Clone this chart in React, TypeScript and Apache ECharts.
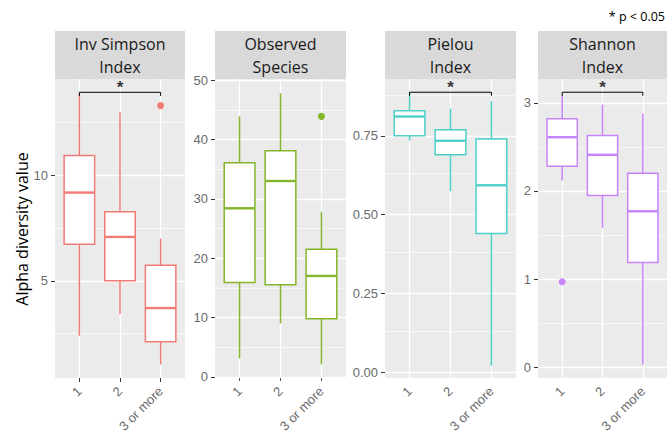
import React, { useEffect, useRef } from "react";
import * as echarts from "echarts";

// ---------- data ----------
const groups = ["1", "2", "3 or more"];
const groupPos = [1, 2, 3];

const panelTitles = ["Inv Simpson\nIndex", "Observed\nSpecies", "Pielou\nIndex", "Shannon\nIndex"];

// each box: [lower whisker, Q1, median, Q3, upper whisker]
const invSimpsonBoxes = [
  [2.4, 6.73, 9.18, 10.94, 13.85],
  [3.43, 5.0, 7.08, 8.27, 12.99],
  [1.04, 2.12, 3.71, 5.74, 7.0],
];
const invSimpsonOutliers = [[3, 13.3]];

const observedBoxes = [
  [3.1, 15.9, 28.4, 36.1, 43.9],
  [9.0, 15.5, 33.0, 38.1, 47.8],
  [2.1, 9.8, 17.0, 21.5, 27.8],
];
const observedOutliers = [[3, 43.9]];

const pielouBoxes = [
  [0.735, 0.75, 0.811, 0.829, 0.885],
  [0.574, 0.69, 0.734, 0.769, 0.836],
  [0.021, 0.44, 0.593, 0.74, 0.86],
];
const pielouOutliers: number[][] = [];

const shannonBoxes = [
  [2.12, 2.28, 2.61, 2.82, 3.09],
  [1.58, 1.95, 2.41, 2.63, 2.98],
  [0.03, 1.19, 1.77, 2.2, 2.88],
];
const shannonOutliers = [[1, 0.97]];

const panelBoxes = [invSimpsonBoxes, observedBoxes, pielouBoxes, shannonBoxes];
const panelOutliers = [invSimpsonOutliers, observedOutliers, pielouOutliers, shannonOutliers];

const yMins = [0.4, -0.2, -0.018, -0.12];
const yMaxs = [14.56, 50.2, 0.93, 3.27];
const majorTicks = [
  [5, 10],
  [0, 10, 20, 30, 40, 50],
  [0, 0.25, 0.5, 0.75],
  [0, 1, 2, 3],
];
const minorTicks = [
  [2.5, 7.5, 12.5],
  [5, 15, 25, 35, 45],
  [0.125, 0.375, 0.625, 0.875],
  [0.5, 1.5, 2.5],
];
const tickLabels = [
  ["5", "10"],
  ["0", "10", "20", "30", "40", "50"],
  ["0.00", "0.25", "0.50", "0.75"],
  ["0", "1", "2", "3"],
];
// significance brackets: [from group, to group, height, tip length]
const brackets: (number[] | null)[] = [
  [1, 3, 13.93, 0.17],
  null,
  [1, 3, 0.888, 0.011],
  [1, 3, 3.12, 0.04],
];
const yTitle = "Alpha diversity value";
const pNote = "* p < 0.05";

// ---------- style / layout ----------
const colors = ["#F27C76", "#84B52A", "#4ED0C9", "#C784FA"];
const gridLefts = [55, 215, 385, 538];
const gridWidths = [130, 131, 131, 129];
const gridTop = 79;
const gridHeight = 300;
const stripTop = 31;
const tickColor = "#6b6b6b";

export default function App() {
  const ref = useRef<HTMLDivElement>(null);

  useEffect(() => {
    document.body.style.margin = "0";
    if (!ref.current) return;
    const chart = echarts.init(ref.current, null, { renderer: "svg" });

    const grid: any[] = [];
    const xAxis: any[] = [];
    const yAxis: any[] = [];
    const series: any[] = [];
    const graphic: any[] = [];

    panelBoxes.forEach((boxes, i) => {
      grid.push({
        left: gridLefts[i],
        top: gridTop,
        width: gridWidths[i],
        height: gridHeight,
        show: true,
        backgroundColor: "#EBEBEB",
        borderWidth: 0,
      });
      xAxis.push({
        type: "value",
        gridIndex: i,
        min: 0.4,
        max: 3.6,
        axisLine: { show: false },
        splitLine: { show: false },
        axisTick: { show: true, customValues: groupPos, length: 4, lineStyle: { color: "#333", width: 1 } },
        axisLabel: {
          customValues: groupPos,
          formatter: (v: number) => groups[groupPos.findIndex((g) => Math.abs(g - v) < 1e-9)] ?? "",
          rotate: 45,
          margin: 11,
          color: tickColor,
          fontSize: 13,
          fontFamily: "Liberation Sans",
        },
      });
      yAxis.push({
        type: "value",
        gridIndex: i,
        min: yMins[i],
        max: yMaxs[i],
        axisLine: { show: false },
        splitLine: { show: false },
        axisTick: { show: true, customValues: majorTicks[i], length: 4, lineStyle: { color: "#333", width: 1 } },
        axisLabel: {
          customValues: majorTicks[i],
          formatter: (v: number) => tickLabels[i][majorTicks[i].findIndex((t) => Math.abs(t - v) < 1e-9)] ?? "",
          margin: 7,
          color: tickColor,
          fontSize: 13,
          fontFamily: "Liberation Sans",
        },
      });

      // gridlines
      series.push({
        type: "line",
        xAxisIndex: i,
        yAxisIndex: i,
        data: [],
        z: 1,
        silent: true,
        markLine: {
          z: 1,
          silent: true,
          symbol: ["none", "none"],
          label: { show: false },
          lineStyle: { color: "#ffffff", type: "solid" },
          emphasis: { disabled: true },
          data: [
            ...minorTicks[i].map((v) => ({ yAxis: v, lineStyle: { width: 0.6, color: "#fff", type: "solid" } })),
            ...majorTicks[i].map((v) => ({ yAxis: v, lineStyle: { width: 1.3, color: "#fff", type: "solid" } })),
            ...groupPos.map((v) => ({ xAxis: v, lineStyle: { width: 1.3, color: "#fff", type: "solid" } })),
          ],
        },
      });

      const color = colors[i];
      // boxes
      series.push({
        type: "custom",
        xAxisIndex: i,
        yAxisIndex: i,
        z: 6,
        dimensions: ["x", "lo", "q1", "med", "q3", "hi"],
        encode: { x: 0, y: [1, 2, 3, 4, 5] },
        data: boxes.map((b, k) => [groupPos[k], ...b]),
        renderItem: (params: any, api: any) => {
          const x = api.value(0);
          const cx = api.coord([x, api.value(1)])[0];
          const yLo = api.coord([x, api.value(1)])[1];
          const yQ1 = api.coord([x, api.value(2)])[1];
          const yMed = api.coord([x, api.value(3)])[1];
          const yQ3 = api.coord([x, api.value(4)])[1];
          const yHi = api.coord([x, api.value(5)])[1];
          const hw = api.size([0.75, 0])[0] / 2;
          const st = { stroke: color, lineWidth: 1.5, fill: null };
          return {
            type: "group",
            children: [
              { type: "line", shape: { x1: cx, y1: yHi, x2: cx, y2: yQ3 }, style: st },
              { type: "line", shape: { x1: cx, y1: yQ1, x2: cx, y2: yLo }, style: st },
              {
                type: "rect",
                shape: { x: cx - hw, y: yQ3, width: hw * 2, height: yQ1 - yQ3 },
                style: { fill: "#ffffff", stroke: color, lineWidth: 1.5 },
              },
              { type: "line", shape: { x1: cx - hw, y1: yMed, x2: cx + hw, y2: yMed }, style: { stroke: color, lineWidth: 2.4 } },
            ],
          };
        },
      });

      // outliers
      series.push({
        type: "scatter",
        xAxisIndex: i,
        yAxisIndex: i,
        z: 7,
        symbolSize: 7,
        itemStyle: { color, opacity: 1 },
        data: panelOutliers[i],
      });

      // significance bracket
      const br = brackets[i];
      if (br) {
        const [a, b, h, tip] = br;
        series.push({
          type: "line",
          xAxisIndex: i,
          yAxisIndex: i,
          z: 8,
          symbol: "none",
          lineStyle: { color: "#000", width: 1 },
          data: [
            [a, h - tip],
            [a, h],
            [b, h],
            [b, h - tip],
          ],
        });
        series.push({
          type: "scatter",
          xAxisIndex: i,
          yAxisIndex: i,
          z: 8,
          symbolSize: 0,
          data: [[(a + b) / 2, h]],
          label: {
            show: true,
            position: "top",
            distance: -4,
            formatter: "*",
            color: "#000",
            fontSize: 17,
            fontWeight: "bold",
            fontFamily: "Liberation Sans",
          },
        });
      }

      // strip header
      graphic.push({
        type: "rect",
        shape: { x: gridLefts[i], y: stripTop, width: gridWidths[i], height: gridTop - stripTop },
        style: { fill: "#D9D9D9" },
        silent: true,
      });
      graphic.push({
        type: "text",
        x: gridLefts[i] + gridWidths[i] / 2,
        y: (stripTop + gridTop) / 2,
        style: {
          text: panelTitles[i],
          fontSize: 16,
          fontFamily: "Open Sans",
          fill: "#1a1a1a",
          lineHeight: 23,
          align: "center",
          verticalAlign: "middle",
        },
        silent: true,
      });
    });

    graphic.push({
      type: "text",
      x: 22,
      y: gridTop + gridHeight / 2,
      rotation: Math.PI / 2,
      style: {
        text: yTitle,
        fontSize: 16,
        fontFamily: "Open Sans",
        fill: "#000",
        align: "center",
        verticalAlign: "middle",
      },
      silent: true,
    });
    graphic.push({
      type: "text",
      x: 665,
      y: 16,
      style: {
        text: pNote,
        fontSize: 12.5,
        fontFamily: "Open Sans",
        fill: "#000",
        align: "right",
        verticalAlign: "middle",
      },
      silent: true,
    });

    chart.setOption({
      animation: false,
      backgroundColor: "#ffffff",
      grid,
      xAxis,
      yAxis,
      series,
      graphic,
    });

    return () => chart.dispose();
  }, []);

  return <div ref={ref} style={{ width: 667, height: 435 }} />;
}
